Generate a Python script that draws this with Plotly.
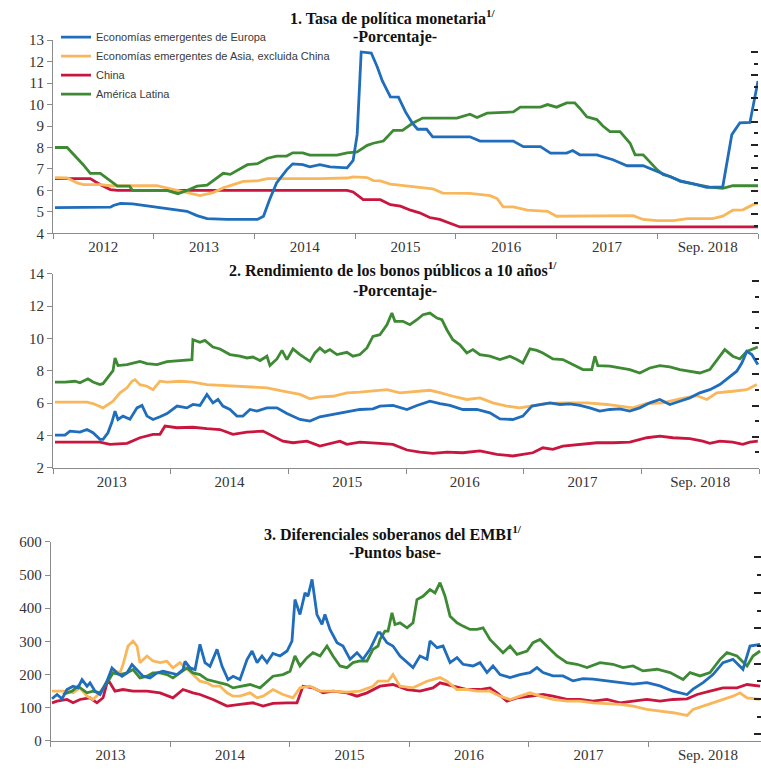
import plotly.graph_objects as go

# ---------------- DATA ----------------
series_names = ["Economías emergentes de Europa",
                "Economías emergentes de Asia, excluida China",
                "China", "América Latina"]
colors = ["#1F6DBB", "#F9B75C", "#C8163E", "#3E8A34"]

# Panel 1: policy rates (%), time in years since Jan 2012
p1_eur_t = [0.02, 0.30, 0.57, 0.60, 0.67, 0.79, 0.96, 1.13, 1.33, 1.43, 1.53, 1.73, 2.03, 2.09, 2.15, 2.22, 2.32, 2.38, 2.48, 2.55, 2.65, 2.75, 2.92, 2.98, 3.02, 3.06, 3.16, 3.22, 3.27, 3.35, 3.43, 3.50, 3.57, 3.62, 3.71, 3.77, 4.14, 4.24, 4.57, 4.67, 4.84, 4.94, 5.10, 5.16, 5.23, 5.40, 5.56, 5.70, 5.86, 6.00, 6.13, 6.23, 6.36, 6.49, 6.65, 6.74, 6.82, 6.92, 7.00]
p1_eur_v = [5.2, 5.2, 5.22, 5.3, 5.4, 5.38, 5.27, 5.16, 5.03, 4.83, 4.69, 4.65, 4.65, 4.8, 5.57, 6.35, 6.96, 7.24, 7.2, 7.1, 7.2, 7.1, 7.05, 7.4, 8.6, 12.45, 12.4, 11.75, 11.1, 10.36, 10.35, 9.66, 9.12, 8.85, 8.85, 8.5, 8.5, 8.3, 8.3, 8.04, 8.04, 7.74, 7.74, 7.86, 7.66, 7.66, 7.43, 7.15, 7.15, 6.88, 6.65, 6.45, 6.31, 6.14, 6.17, 8.6, 9.15, 9.17, 11.1]
p1_asia_t = [0.02, 0.14, 0.24, 0.30, 0.47, 0.57, 1.03, 1.13, 1.26, 1.46, 1.59, 1.69, 1.79, 1.89, 2.03, 2.13, 2.65, 2.78, 2.92, 2.98, 3.12, 3.18, 3.25, 3.35, 3.57, 3.77, 3.87, 4.14, 4.34, 4.41, 4.47, 4.57, 4.71, 4.91, 5.00, 5.76, 5.86, 6.00, 6.16, 6.30, 6.55, 6.65, 6.75, 6.85, 6.95, 7.00]
p1_asia_v = [6.6, 6.58, 6.35, 6.27, 6.27, 6.22, 6.22, 6.12, 5.96, 5.76, 5.9, 6.12, 6.27, 6.42, 6.45, 6.55, 6.55, 6.58, 6.58, 6.63, 6.6, 6.46, 6.45, 6.3, 6.19, 6.08, 5.88, 5.86, 5.76, 5.62, 5.24, 5.24, 5.08, 5.03, 4.8, 4.83, 4.65, 4.6, 4.6, 4.69, 4.69, 4.8, 5.08, 5.1, 5.34, 5.4]
p1_chn_t = [0.02, 0.37, 0.47, 0.57, 0.64, 2.92, 2.98, 3.08, 3.25, 3.35, 3.45, 3.55, 3.64, 3.74, 3.84, 3.94, 4.04, 7.00]
p1_chn_v = [6.55, 6.55, 6.27, 6.04, 6.0, 6.0, 5.93, 5.57, 5.57, 5.34, 5.27, 5.08, 4.96, 4.74, 4.65, 4.46, 4.3, 4.3]
p1_lat_t = [0.02, 0.14, 0.30, 0.37, 0.47, 0.64, 0.76, 0.79, 1.13, 1.24, 1.33, 1.43, 1.53, 1.69, 1.76, 1.86, 1.93, 2.03, 2.13, 2.22, 2.32, 2.38, 2.48, 2.55, 2.82, 2.92, 3.02, 3.12, 3.18, 3.28, 3.38, 3.47, 3.57, 3.67, 4.01, 4.14, 4.21, 4.31, 4.57, 4.64, 4.84, 4.91, 5.00, 5.10, 5.18, 5.23, 5.30, 5.40, 5.46, 5.53, 5.63, 5.73, 5.78, 5.86, 6.00, 6.06, 6.13, 6.23, 6.40, 6.52, 6.65, 6.75, 7.00]
p1_lat_v = [8.0, 8.0, 7.2, 6.8, 6.8, 6.2, 6.2, 6.0, 6.0, 5.85, 6.0, 6.2, 6.25, 6.8, 6.75, 7.0, 7.2, 7.25, 7.5, 7.6, 7.6, 7.75, 7.75, 7.65, 7.65, 7.75, 7.8, 8.1, 8.2, 8.3, 8.8, 8.8, 9.13, 9.37, 9.37, 9.55, 9.4, 9.6, 9.66, 9.88, 9.88, 10.0, 9.88, 10.08, 10.08, 9.83, 9.43, 9.3, 9.0, 8.74, 8.74, 8.2, 7.66, 7.66, 6.96, 6.73, 6.65, 6.42, 6.27, 6.16, 6.1, 6.22, 6.22]

# Panel 2: 10-year government bond yields (%), time in years since Jan 2013
p2_eur_t = [0.017, 0.102, 0.144, 0.229, 0.289, 0.340, 0.399, 0.425, 0.467, 0.501, 0.527, 0.552, 0.595, 0.654, 0.714, 0.756, 0.799, 0.850, 0.909, 0.969, 1.054, 1.138, 1.189, 1.249, 1.308, 1.359, 1.402, 1.444, 1.504, 1.563, 1.614, 1.674, 1.733, 1.818, 1.903, 1.988, 2.099, 2.184, 2.268, 2.379, 2.498, 2.608, 2.719, 2.778, 2.889, 3.008, 3.093, 3.203, 3.288, 3.373, 3.483, 3.602, 3.713, 3.798, 3.908, 3.993, 4.070, 4.138, 4.223, 4.308, 4.393, 4.478, 4.562, 4.647, 4.732, 4.817, 4.902, 4.987, 5.072, 5.157, 5.242, 5.327, 5.412, 5.497, 5.582, 5.667, 5.752, 5.811, 5.854, 5.896, 5.939, 5.964, 5.990]
p2_eur_v = [4.01, 4.01, 4.26, 4.2, 4.36, 4.16, 3.75, 3.75, 4.16, 4.82, 5.5, 4.98, 5.19, 5.0, 5.7, 5.85, 5.19, 4.98, 5.15, 5.35, 5.81, 5.7, 5.91, 5.85, 6.53, 6.01, 6.22, 5.81, 5.6, 5.19, 5.19, 5.6, 5.5, 5.7, 5.7, 5.35, 4.98, 4.88, 5.15, 5.29, 5.44, 5.6, 5.64, 5.81, 5.85, 5.6, 5.85, 6.11, 5.97, 5.85, 5.6, 5.6, 5.39, 5.02, 4.98, 5.19, 5.81, 5.91, 6.01, 5.91, 5.95, 5.85, 5.7, 5.5, 5.6, 5.64, 5.5, 5.7, 6.01, 6.22, 5.91, 6.11, 6.32, 6.63, 6.83, 7.14, 7.66, 7.97, 8.48, 9.2, 9.0, 8.69, 8.38]
p2_asia_t = [0.017, 0.289, 0.340, 0.425, 0.510, 0.569, 0.629, 0.671, 0.697, 0.739, 0.799, 0.850, 0.909, 0.969, 1.079, 1.189, 1.308, 1.478, 1.648, 1.818, 1.954, 2.099, 2.184, 2.268, 2.379, 2.498, 2.608, 2.719, 2.778, 2.838, 2.948, 3.118, 3.203, 3.288, 3.398, 3.517, 3.628, 3.738, 3.857, 3.968, 4.053, 4.197, 4.367, 4.537, 4.707, 4.817, 4.928, 5.047, 5.183, 5.327, 5.472, 5.557, 5.641, 5.777, 5.896, 5.981]
p2_asia_v = [6.05, 6.05, 5.97, 5.7, 6.11, 6.63, 6.94, 7.35, 7.45, 7.14, 7.04, 6.83, 7.35, 7.29, 7.35, 7.29, 7.14, 7.08, 7.04, 6.94, 6.73, 6.53, 6.26, 6.38, 6.42, 6.63, 6.67, 6.73, 6.79, 6.83, 6.63, 6.73, 6.79, 6.65, 6.42, 6.22, 6.32, 6.01, 5.81, 5.7, 5.8, 5.97, 6.01, 6.01, 5.91, 5.81, 5.7, 5.97, 6.01, 6.26, 6.46, 6.22, 6.63, 6.73, 6.83, 7.14]
p2_chn_t = [0.017, 0.399, 0.484, 0.629, 0.739, 0.850, 0.909, 0.952, 1.054, 1.189, 1.308, 1.419, 1.529, 1.648, 1.784, 1.869, 1.954, 2.039, 2.158, 2.268, 2.379, 2.438, 2.498, 2.608, 2.778, 2.889, 3.008, 3.118, 3.229, 3.347, 3.483, 3.628, 3.772, 3.908, 3.993, 4.078, 4.163, 4.248, 4.333, 4.478, 4.622, 4.758, 4.902, 5.047, 5.157, 5.268, 5.412, 5.522, 5.582, 5.667, 5.777, 5.862, 5.922, 5.990]
p2_chn_v = [3.58, 3.58, 3.44, 3.5, 3.85, 4.06, 4.06, 4.57, 4.47, 4.5, 4.41, 4.36, 4.06, 4.2, 4.26, 3.95, 3.64, 3.54, 3.64, 3.33, 3.54, 3.64, 3.44, 3.58, 3.5, 3.44, 3.09, 2.96, 2.88, 2.96, 2.92, 3.03, 2.82, 2.72, 2.82, 2.92, 3.23, 3.13, 3.33, 3.44, 3.54, 3.54, 3.58, 3.85, 3.95, 3.85, 3.79, 3.64, 3.5, 3.64, 3.58, 3.44, 3.58, 3.64]
p2_lat_t = [0.017, 0.102, 0.187, 0.229, 0.297, 0.340, 0.399, 0.425, 0.484, 0.510, 0.527, 0.552, 0.629, 0.739, 0.799, 0.884, 0.969, 1.079, 1.181, 1.189, 1.249, 1.291, 1.359, 1.419, 1.504, 1.589, 1.648, 1.699, 1.759, 1.818, 1.844, 1.903, 1.946, 1.988, 2.039, 2.099, 2.141, 2.184, 2.226, 2.268, 2.311, 2.353, 2.413, 2.498, 2.549, 2.608, 2.668, 2.719, 2.778, 2.838, 2.880, 2.906, 2.974, 3.033, 3.093, 3.144, 3.203, 3.263, 3.305, 3.347, 3.398, 3.458, 3.517, 3.568, 3.628, 3.713, 3.798, 3.883, 3.942, 3.993, 4.053, 4.112, 4.163, 4.248, 4.333, 4.418, 4.503, 4.579, 4.605, 4.630, 4.732, 4.817, 4.902, 4.987, 5.072, 5.157, 5.242, 5.327, 5.412, 5.497, 5.582, 5.667, 5.709, 5.777, 5.837, 5.896, 5.947, 5.990]
p2_lat_v = [7.3, 7.3, 7.35, 7.25, 7.5, 7.3, 7.15, 7.2, 7.76, 8.0, 8.79, 8.32, 8.38, 8.58, 8.44, 8.38, 8.56, 8.63, 8.69, 9.92, 9.76, 9.88, 9.47, 9.35, 9.0, 8.9, 8.79, 8.85, 8.63, 8.9, 8.32, 8.73, 9.26, 8.69, 9.35, 9.0, 8.79, 8.58, 9.1, 9.41, 9.14, 9.31, 9.0, 9.14, 8.9, 9.0, 9.41, 10.13, 10.23, 10.85, 11.57, 11.06, 11.06, 10.85, 11.16, 11.47, 11.57, 11.26, 11.16, 10.54, 9.92, 9.61, 9.1, 9.31, 9.0, 8.9, 8.69, 8.9, 8.69, 8.48, 9.35, 9.26, 9.1, 8.73, 8.69, 8.38, 8.07, 8.07, 8.9, 8.32, 8.28, 8.17, 8.07, 7.86, 8.17, 8.32, 8.24, 8.07, 7.97, 7.86, 8.07, 8.9, 9.31, 8.9, 8.73, 9.2, 9.35, 9.47]

# Panel 3: EMBI sovereign spreads (basis points), time in years since Jan 2013
p3_eur_t = [0.011, 0.053, 0.095, 0.136, 0.187, 0.228, 0.262, 0.304, 0.329, 0.371, 0.413, 0.471, 0.513, 0.555, 0.597, 0.638, 0.680, 0.722, 0.772, 0.831, 0.889, 0.940, 0.998, 1.057, 1.107, 1.124, 1.166, 1.208, 1.249, 1.291, 1.333, 1.392, 1.434, 1.484, 1.526, 1.584, 1.643, 1.685, 1.727, 1.768, 1.810, 1.860, 1.919, 1.978, 2.019, 2.044, 2.086, 2.128, 2.153, 2.187, 2.228, 2.270, 2.295, 2.337, 2.396, 2.446, 2.505, 2.563, 2.613, 2.672, 2.739, 2.756, 2.814, 2.864, 2.923, 2.982, 3.032, 3.090, 3.149, 3.174, 3.233, 3.283, 3.342, 3.400, 3.450, 3.534, 3.593, 3.651, 3.701, 3.760, 3.844, 3.927, 4.011, 4.069, 4.120, 4.203, 4.287, 4.371, 4.454, 4.538, 4.655, 4.764, 4.873, 4.990, 5.099, 5.208, 5.325, 5.375, 5.459, 5.542, 5.626, 5.709, 5.793, 5.852, 5.936]
p3_eur_v = [127, 140, 127, 155, 165, 160, 185, 165, 175, 150, 140, 180, 220, 205, 195, 205, 230, 215, 195, 190, 205, 210, 205, 200, 215, 240, 220, 215, 291, 236, 225, 276, 225, 185, 195, 185, 245, 271, 236, 256, 236, 264, 256, 271, 301, 426, 381, 446, 436, 487, 381, 351, 381, 336, 296, 286, 246, 266, 246, 276, 326, 326, 296, 286, 256, 236, 221, 256, 246, 301, 281, 286, 236, 251, 231, 226, 236, 206, 226, 200, 191, 200, 206, 221, 206, 196, 196, 181, 188, 186, 181, 176, 171, 176, 166, 150, 140, 156, 176, 200, 236, 246, 216, 286, 291]
p3_asia_t = [0.011, 0.136, 0.187, 0.245, 0.304, 0.354, 0.413, 0.471, 0.521, 0.580, 0.605, 0.647, 0.689, 0.722, 0.747, 0.806, 0.856, 0.915, 0.973, 1.023, 1.082, 1.141, 1.191, 1.249, 1.308, 1.358, 1.417, 1.475, 1.526, 1.584, 1.668, 1.727, 1.777, 1.860, 1.944, 2.028, 2.086, 2.170, 2.254, 2.362, 2.479, 2.588, 2.697, 2.739, 2.823, 2.864, 2.923, 3.032, 3.149, 3.258, 3.316, 3.400, 3.484, 3.568, 3.676, 3.760, 3.844, 3.927, 4.011, 4.095, 4.203, 4.320, 4.429, 4.538, 4.655, 4.764, 4.873, 4.990, 5.099, 5.208, 5.325, 5.375, 5.459, 5.542, 5.626, 5.709, 5.768, 5.827, 5.936]
p3_asia_v = [150, 150, 145, 160, 135, 125, 145, 180, 215, 205, 230, 286, 301, 286, 236, 256, 241, 236, 240, 220, 236, 215, 200, 180, 175, 165, 165, 145, 135, 135, 145, 130, 135, 155, 140, 130, 160, 165, 150, 150, 147, 150, 165, 180, 180, 200, 165, 160, 180, 191, 180, 155, 155, 150, 150, 135, 125, 135, 145, 135, 125, 120, 120, 115, 113, 110, 105, 95, 90, 85, 77, 95, 105, 115, 125, 135, 145, 130, 125]
p3_chn_t = [0.011, 0.053, 0.136, 0.187, 0.245, 0.329, 0.387, 0.438, 0.479, 0.538, 0.605, 0.689, 0.806, 0.915, 1.023, 1.107, 1.191, 1.249, 1.358, 1.475, 1.584, 1.693, 1.777, 1.860, 1.978, 2.061, 2.111, 2.195, 2.279, 2.362, 2.479, 2.563, 2.647, 2.730, 2.756, 2.864, 2.982, 3.090, 3.199, 3.258, 3.367, 3.484, 3.593, 3.676, 3.735, 3.818, 3.902, 4.011, 4.120, 4.203, 4.320, 4.429, 4.538, 4.655, 4.764, 4.873, 4.990, 5.099, 5.208, 5.325, 5.409, 5.517, 5.626, 5.743, 5.827, 5.936]
p3_chn_v = [115, 120, 125, 115, 125, 130, 115, 130, 185, 150, 155, 150, 150, 145, 130, 155, 145, 140, 125, 105, 110, 115, 105, 113, 115, 115, 165, 160, 145, 150, 145, 135, 145, 160, 165, 170, 155, 150, 160, 175, 165, 155, 155, 160, 145, 120, 130, 135, 140, 135, 125, 125, 120, 125, 115, 120, 125, 120, 125, 127, 140, 150, 160, 160, 170, 165]
p3_lat_t = [0.103, 0.178, 0.228, 0.304, 0.354, 0.413, 0.471, 0.521, 0.580, 0.638, 0.689, 0.747, 0.806, 0.856, 0.915, 0.973, 1.023, 1.082, 1.141, 1.191, 1.249, 1.308, 1.358, 1.417, 1.475, 1.526, 1.584, 1.668, 1.752, 1.810, 1.860, 1.944, 2.003, 2.044, 2.086, 2.145, 2.195, 2.254, 2.312, 2.362, 2.421, 2.479, 2.530, 2.588, 2.647, 2.697, 2.739, 2.756, 2.797, 2.823, 2.856, 2.881, 2.923, 2.982, 3.032, 3.065, 3.115, 3.174, 3.216, 3.258, 3.300, 3.342, 3.400, 3.450, 3.509, 3.568, 3.618, 3.676, 3.735, 3.785, 3.844, 3.902, 3.986, 4.036, 4.095, 4.153, 4.237, 4.320, 4.404, 4.488, 4.597, 4.705, 4.789, 4.873, 4.956, 5.074, 5.183, 5.292, 5.350, 5.434, 5.517, 5.601, 5.659, 5.743, 5.827, 5.877, 5.936]
p3_lat_v = [140, 150, 165, 145, 150, 145, 175, 205, 200, 205, 215, 190, 195, 205, 205, 200, 190, 205, 220, 205, 200, 185, 180, 175, 170, 160, 165, 170, 160, 180, 195, 200, 210, 256, 226, 251, 266, 256, 286, 256, 226, 221, 236, 241, 241, 276, 286, 306, 331, 331, 386, 351, 356, 341, 356, 426, 436, 456, 446, 477, 436, 376, 356, 346, 336, 336, 341, 306, 286, 266, 286, 261, 271, 296, 306, 286, 256, 236, 231, 221, 236, 231, 221, 226, 211, 216, 206, 185, 206, 196, 206, 246, 266, 256, 226, 256, 271]

p1_ticktext = ["2012", "2013", "2014", "2015", "2016", "2017", "Sep. 2018"]
p23_ticktext = ["2013", "2014", "2015", "2016", "2017", "Sep. 2018"]

titles = [("1. Tasa de política monetaria", "-Porcentaje-"),
          ("2. Rendimiento de los bonos públicos a 10 años", "-Porcentaje-"),
          ("3. Diferenciales soberanos del EMBI", "-Puntos base-")]

# ---------------- FIGURE ----------------
W, H = 761, 771
# the photographed page maps figure rows as y_shot = VS * y_fig + VO; place things in shot pixels
VS, VO = 0.9805, 7.8
def px(v): return v / W
def py(v): return 1 - ((v - VO) / VS) / H

fig = go.Figure()
panels = [
    (2012, [(p1_eur_t, p1_eur_v), (p1_asia_t, p1_asia_v), (p1_chn_t, p1_chn_v), (p1_lat_t, p1_lat_v)], "x", "y"),
    (2013, [(p2_eur_t, p2_eur_v), (p2_asia_t, p2_asia_v), (p2_chn_t, p2_chn_v), (p2_lat_t, p2_lat_v)], "x2", "y2"),
    (2013, [(p3_eur_t, p3_eur_v), (p3_asia_t, p3_asia_v), (p3_chn_t, p3_chn_v), (p3_lat_t, p3_lat_v)], "x3", "y3"),
]
order = [2, 1, 3, 0]  # draw China, Asia, LatAm, then Europe on top
for pi, (base, data, xa, ya) in enumerate(panels):
    for k in order:
        t, v = data[k]
        fig.add_trace(go.Scatter(
            x=[base + a for a in t], y=v, mode="lines", name=series_names[k],
            line=dict(color=colors[k], width=2.8), xaxis=xa, yaxis=ya,
            showlegend=(pi == 0), legendrank=k + 1, hoverinfo="skip"))

# invisible helper traces so the right-edge dash axes get drawn
for ya, xa, base in [("y4", "x", 2012), ("y5", "x2", 2013), ("y6", "x3", 2013)]:
    fig.add_trace(go.Scatter(x=[base], y=[0], xaxis=xa, yaxis=ya, mode="markers",
                             marker=dict(opacity=0, size=1),
                             showlegend=False, hoverinfo="skip"))

tickfont = dict(family="Liberation Serif", size=15, color="#333333")
axline = dict(showline=True, linecolor="#8a8a8a", linewidth=1, showgrid=False, zeroline=False)

def xaxis_cfg(domain, start, n, span, labels, anchor):
    return dict(domain=domain, range=[start, start + span], anchor=anchor,
                tickmode="array", tickvals=[start + i + 0.5 for i in range(n)],
                ticktext=labels, ticks="", tickfont=tickfont,
                minor=dict(tickmode="array", tickvals=[start + i for i in range(n + 1)],
                           ticks="outside", ticklen=5, tickcolor="#8a8a8a", showgrid=False),
                **axline)

def yaxis_cfg(domain, rng, dtick, anchor):
    return dict(domain=domain, range=rng, dtick=dtick, tick0=rng[0], ticks="outside",
                ticklen=5, tickcolor="#8a8a8a", tickfont=tickfont, anchor=anchor, **axline)

def dash_axis(overlay, xpos, rng, major_tick0):
    return dict(overlaying=overlay, anchor="free", position=xpos, side="right", range=rng,
                showline=False, showgrid=False, zeroline=False, showticklabels=False,
                tickmode="linear", tick0=major_tick0, dtick=2, ticks="inside", ticklen=7, tickwidth=2,
                tickcolor="#222222",
                minor=dict(dtick=1, tick0=0, ticks="inside", ticklen=4, tickwidth=2,
                           tickcolor="#222222", showgrid=False))

fig.update_layout(
    width=W, height=H, margin=dict(l=0, r=0, t=0, b=0), autosize=False,
    paper_bgcolor="white", plot_bgcolor="white",
    xaxis=xaxis_cfg([px(53), px(758)], 2012, 7, 7, p1_ticktext, "y"),
    yaxis=yaxis_cfg([py(233.5), py(40)], [4, 13], 1, "x"),
    xaxis2=xaxis_cfg([px(53), px(759)], 2013, 6, 6, p23_ticktext, "y2"),
    yaxis2=yaxis_cfg([py(468), py(274)], [2, 14], 2, "x2"),
    xaxis3=xaxis_cfg([px(50.7), 1.0], 2013, 6, (W - 50.7) / 119.5, p23_ticktext, "y3"),
    yaxis3=yaxis_cfg([py(741.7), py(542.3)], [0, 600], 100, "x3"),
    yaxis4=dash_axis("y", px(758), [-0.647, 16.03], 1),
    yaxis5=dash_axis("y2", px(759), [-0.98, 11.46], 1),
    yaxis6=dash_axis("y3", 1.0, [-0.379, 10.887], 0),
    legend=dict(x=px(56), y=py(22.5), xanchor="left", yanchor="top",
                bgcolor="rgba(0,0,0,0)", font=dict(family="Liberation Sans", size=11, color="#3a3a3a"),
                itemwidth=30, tracegroupgap=0, traceorder="normal"),
    showlegend=True,
)

title_pos = [(17, 37), (270, 291), (533, 553)]
for (t1, t2), (y1, y2) in zip(titles, title_pos):
    fig.add_annotation(text="<b>" + t1 + "<sup>1/</sup></b>", x=px(393), y=py(y1),
                       xref="paper", yref="paper", showarrow=False, xanchor="center", yanchor="middle",
                       font=dict(family="Liberation Serif", size=16, color="#111111"))
    fig.add_annotation(text="<b>" + t2 + "</b>", x=px(395), y=py(y2),
                       xref="paper", yref="paper", showarrow=False, xanchor="center", yanchor="middle",
                       font=dict(family="Liberation Serif", size=16, color="#111111"))

pin_page = (
    "document.documentElement.style.margin='0';"
    "document.documentElement.style.padding='0';"
    "document.documentElement.style.overflow='hidden';"
    "document.body.style.margin='0';"
    "document.body.style.padding='0';"
    "document.body.style.overflow='hidden';"
    "var d=document.getElementById('{plot_id}');"
    "d.style.position='fixed';d.style.left='0px';d.style.top='0px';"
)
fig.write_html("out.html", config={"displayModeBar": False}, post_script=pin_page)
